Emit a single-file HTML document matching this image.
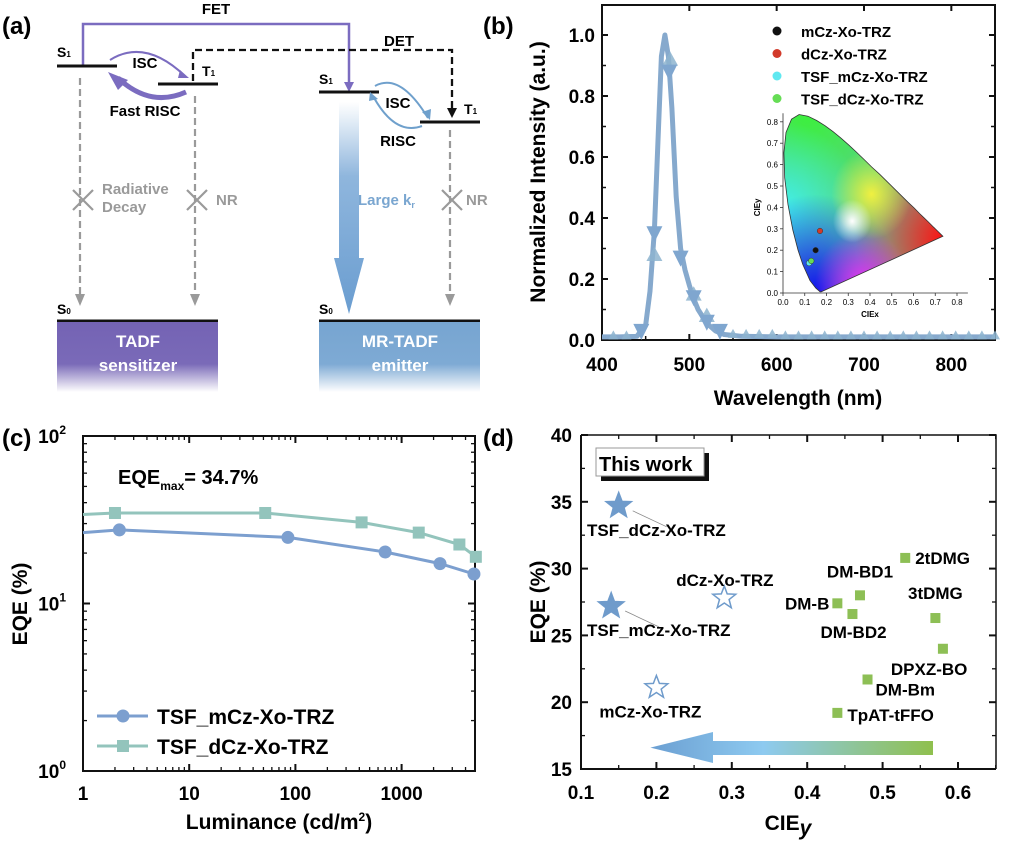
<!DOCTYPE html>
<html><head><meta charset="utf-8">
<style>
html,body{margin:0;padding:0;background:#fff;}
svg{display:block;font-family:"Liberation Sans",Arial,sans-serif;font-weight:bold;}
</style></head>
<body>
<svg id="fig" width="1016" height="844" viewBox="0 0 1016 844" xmlns="http://www.w3.org/2000/svg">
<defs>
  <linearGradient id="gPurple" x1="0" y1="0" x2="0" y2="1">
    <stop offset="0" stop-color="#7463b4"/><stop offset="0.6" stop-color="#7a6ab8"/><stop offset="1" stop-color="#ffffff"/>
  </linearGradient>
  <linearGradient id="gBlueBox" x1="0" y1="0" x2="0" y2="1">
    <stop offset="0" stop-color="#77a5d1"/><stop offset="0.6" stop-color="#7eaad4"/><stop offset="1" stop-color="#ffffff"/>
  </linearGradient>
  <linearGradient id="gBigArrow" x1="0" y1="0" x2="0" y2="1">
    <stop offset="0" stop-color="#ffffff"/><stop offset="0.35" stop-color="#8fb6dd"/><stop offset="1" stop-color="#6a9dd0"/>
  </linearGradient>
  <linearGradient id="gArrowD" x1="0" y1="0" x2="1" y2="0">
    <stop offset="0" stop-color="#6b9fd2"/><stop offset="0.4" stop-color="#8ecaf0"/><stop offset="1" stop-color="#8fc04e"/>
  </linearGradient>
  <clipPath id="cieClip"><path id="locusClip" d=""/></clipPath>
  <radialGradient id="rgGreen" cx="0.15" cy="0" r="0.8"><stop offset="0" stop-color="#3cf03c"/><stop offset="1" stop-color="#3cf03c" stop-opacity="0"/></radialGradient>
  <radialGradient id="rgCyan" cx="0" cy="0.55" r="0.5"><stop offset="0" stop-color="#40f0f0"/><stop offset="1" stop-color="#40f0f0" stop-opacity="0"/></radialGradient>
  <radialGradient id="rgBlue" cx="0.2" cy="1" r="0.55"><stop offset="0" stop-color="#1010f0"/><stop offset="1" stop-color="#1010f0" stop-opacity="0"/></radialGradient>
  <radialGradient id="rgRed" cx="1" cy="0.7" r="0.55"><stop offset="0" stop-color="#ff1010"/><stop offset="1" stop-color="#ff1010" stop-opacity="0"/></radialGradient>
  <radialGradient id="rgMag" cx="0.5" cy="0.95" r="0.3"><stop offset="0" stop-color="#f030f0"/><stop offset="1" stop-color="#f030f0" stop-opacity="0"/></radialGradient>
  <radialGradient id="rgYel" cx="0.55" cy="0.45" r="0.25"><stop offset="0" stop-color="#f0f040"/><stop offset="1" stop-color="#f0f040" stop-opacity="0"/></radialGradient>
  <radialGradient id="rgWhite" cx="0.43" cy="0.6" r="0.12"><stop offset="0" stop-color="#ffffff"/><stop offset="1" stop-color="#ffffff" stop-opacity="0"/></radialGradient>
</defs>

<!-- ================= PANEL A ================= -->
<g id="panel-a">
  <text x="2" y="34" font-size="24">(a)</text>
  <path d="M83,66 V24 H349 V88" fill="none" stroke="#7b6cc0" stroke-width="2.5"/>
  <path d="M344,82 L354,82 L349,92z" fill="#7b6cc0"/>
  <text x="216" y="14" font-size="15" text-anchor="middle">FET</text>
  <path d="M193,81 V50 H452 V112" fill="none" stroke="#111" stroke-width="2.3" stroke-dasharray="7,4"/>
  <path d="M447,108 L457,108 L452,118z" fill="#111"/>
  <text x="399" y="46" font-size="15" text-anchor="middle">DET</text>
  <line x1="57" y1="66" x2="117" y2="66" stroke="#111" stroke-width="3"/>
  <line x1="158" y1="84" x2="218" y2="84" stroke="#111" stroke-width="3"/>
  <line x1="319" y1="92" x2="379" y2="92" stroke="#111" stroke-width="3"/>
  <line x1="420" y1="122" x2="480" y2="122" stroke="#111" stroke-width="3"/>
  <text x="57" y="57" font-size="14">S<tspan font-size="8">1</tspan></text>
  <text x="202" y="76" font-size="14">T<tspan font-size="8">1</tspan></text>
  <text x="319" y="84" font-size="14">S<tspan font-size="8">1</tspan></text>
  <text x="464" y="114" font-size="14">T<tspan font-size="8">1</tspan></text>
  <text x="57" y="314" font-size="14">S<tspan font-size="8">0</tspan></text>
  <text x="319" y="314" font-size="14">S<tspan font-size="8">0</tspan></text>
  <path d="M110,60 Q145,38 185,76" fill="none" stroke="#7b6cc0" stroke-width="2"/>
  <path d="M180,70 L189,78 L178,78z" fill="#7b6cc0"/>
  <path d="M186,92 Q150,108 118,78" fill="none" stroke="#7b6cc0" stroke-width="5"/>
  <path d="M108,72 L128,80 L118,90z" fill="#7b6cc0"/>
  <text x="145" y="68" font-size="15" text-anchor="middle">ISC</text>
  <text x="145" y="116" font-size="15" text-anchor="middle">Fast RISC</text>
  <path d="M375,86 Q400,72 428,118" fill="none" stroke="#6fa0cc" stroke-width="2"/>
  <path d="M422,112 L430,120 L431,109z" fill="#6fa0cc"/>
  <path d="M422,126 Q395,136 373,96" fill="none" stroke="#6fa0cc" stroke-width="2"/>
  <path d="M370,92 L378,99 L369,101z" fill="#6fa0cc"/>
  <text x="398" y="108" font-size="15" text-anchor="middle">ISC</text>
  <text x="398" y="146" font-size="15" text-anchor="middle">RISC</text>
  <g stroke="#9a9a9a" stroke-width="2.2" stroke-dasharray="7,4" fill="none">
    <line x1="80" y1="78" x2="80" y2="296"/>
    <line x1="195" y1="96" x2="195" y2="296"/>
    <line x1="450" y1="130" x2="450" y2="296"/>
  </g>
  <g fill="#9a9a9a">
    <path d="M75,294 L85,294 L80,306z"/><path d="M190,294 L200,294 L195,306z"/><path d="M445,294 L455,294 L450,306z"/>
  </g>
  <g stroke="#9a9a9a" stroke-width="2.2">
    <path d="M73,190 L93,210 M93,190 L73,210"/>
    <path d="M187,190 L207,210 M207,190 L187,210"/>
    <path d="M442,190 L462,210 M462,190 L442,210"/>
  </g>
  <text x="102" y="194" font-size="15" fill="#9a9a9a">Radiative</text>
  <text x="102" y="212" font-size="15" fill="#9a9a9a">Decay</text>
  <text x="216" y="205" font-size="15" fill="#9a9a9a">NR</text>
  <text x="466" y="205" font-size="15" fill="#9a9a9a">NR</text>
  <path d="M339,102 H359 V258 H364 L349,314 L334,258 H339z" fill="url(#gBigArrow)"/>
  <text x="358" y="205" font-size="15" fill="#7aa6d0">Large k<tspan font-size="9" dy="3">r</tspan></text>
  <line x1="57" y1="321" x2="218" y2="321" stroke="#111" stroke-width="3"/>
  <rect x="57" y="322" width="161" height="70" fill="url(#gPurple)"/>
  <text x="138" y="347" font-size="17" fill="#fff" text-anchor="middle">TADF</text>
  <text x="138" y="371" font-size="17" fill="#fff" text-anchor="middle">sensitizer</text>
  <line x1="319" y1="321" x2="480" y2="321" stroke="#111" stroke-width="3"/>
  <rect x="319" y="322" width="161" height="70" fill="url(#gBlueBox)"/>
  <text x="400" y="347" font-size="17" fill="#fff" text-anchor="middle">MR-TADF</text>
  <text x="400" y="371" font-size="17" fill="#fff" text-anchor="middle">emitter</text>
</g>

<!-- ================= PANEL B ================= -->
<g id="panel-b">
  <text x="483" y="34" font-size="24">(b)</text>
  <g id="b-axes"></g>
  <g id="b-inset"></g>
  <g id="b-legend"></g>
  <text x="545" y="172" font-size="21" text-anchor="middle" transform="rotate(-90 545 172)">Normalized Intensity (a.u.)</text>
  <text x="798" y="405" font-size="21" text-anchor="middle">Wavelength (nm)</text>
</g>

<!-- ================= PANEL C ================= -->
<g id="panel-c">
  <text x="2" y="446" font-size="24">(c)</text>
  <g id="c-axes"></g>
  <text x="118" y="484" font-size="20">EQE<tspan font-size="12" dy="6">max</tspan><tspan dy="-6">= 34.7%</tspan></text>
  <text x="27" y="604" font-size="21" text-anchor="middle" transform="rotate(-90 27 604)">EQE (%)</text>
  <text x="279" y="829" font-size="21" text-anchor="middle">Luminance (cd/m<tspan font-size="12" dy="-8">2</tspan><tspan dy="8">)</tspan></text>
</g>

<!-- ================= PANEL D ================= -->
<g id="panel-d">
  <text x="483" y="446" font-size="24">(d)</text>
  <g id="d-axes"></g>
  <text x="545" y="602" font-size="21" text-anchor="middle" transform="rotate(-90 545 602)">EQE (%)</text>
  <text x="788" y="830" font-size="21" text-anchor="middle">CIE<tspan font-style="italic" font-size="21" dy="5">y</tspan></text>
</g>
</svg>

<script>
const NS = "http://www.w3.org/2000/svg";
function mk(tag, attrs, parent, txt){
  const e = document.createElementNS(NS, tag);
  for (const k in attrs) e.setAttribute(k, attrs[k]);
  if (txt !== undefined) e.textContent = txt;
  parent.appendChild(e);
  return e;
}

/* ---------- Panel B data ---------- */
const bWave = [400,420,440,450,455,460,465,468,472,476,480,485,490,495,500,505,510,520,530,540,560,600,700,850];
const bInt  = [0.01,0.01,0.012,0.05,0.16,0.36,0.72,0.93,1.0,0.93,0.76,0.47,0.30,0.23,0.18,0.135,0.10,0.055,0.03,0.018,0.012,0.01,0.01,0.01];
const bDownWave = [445,460,477,490,505,520,535];
const bDownInt  = [0.03,0.35,0.88,0.27,0.14,0.06,0.03];
const bUpWave = [460,478,505,520,550,565,580,595,610,625,640,655,670,685,700,715,730,745,760,775,790,805,820,835,850,413,428];
const bUpInt  = [0.28,0.92,0.15,0.08,0.02,0.02,0.02,0.02,0.015,0.015,0.015,0.015,0.015,0.015,0.015,0.015,0.015,0.015,0.015,0.015,0.015,0.015,0.015,0.015,0.015,0.015,0.015];
const bYTicks = [0,0.2,0.4,0.6,0.8,1.0];
const bXTicks = [400,500,600,700,800];
const cieNames = ["mCz-Xo-TRZ","dCz-Xo-TRZ","TSF_mCz-Xo-TRZ","TSF_dCz-Xo-TRZ"];
const cieX = [0.15,0.17,0.12,0.13];
const cieY = [0.20,0.29,0.14,0.15];
const cieColors = ["#111","#d23a2a","#5fe8f0","#66dd55"];
const locusX = [0.175,0.174,0.170,0.164,0.151,0.124,0.091,0.069,0.045,0.023,0.008,0.004,0.014,0.039,0.074,0.115,0.155,0.193,0.230,0.266,0.302,0.337,0.373,0.408,0.444,0.479,0.512,0.545,0.575,0.603,0.627,0.648,0.666,0.680,0.692,0.701,0.735];
const locusY = [0.005,0.005,0.006,0.011,0.023,0.058,0.133,0.201,0.295,0.413,0.538,0.655,0.750,0.812,0.834,0.826,0.806,0.782,0.754,0.724,0.692,0.659,0.624,0.589,0.555,0.520,0.487,0.454,0.424,0.397,0.372,0.352,0.334,0.320,0.308,0.299,0.265];
const insetTicks = [0,0.1,0.2,0.3,0.4,0.5,0.6,0.7,0.8];

const bx = w => 602 + (w-400)*(393/450);
const by = v => 340 - v*305;
(function(){
  const g = document.getElementById('b-axes');
  const fr = mk('rect',{x:602,y:5,width:393,height:335,fill:'none',stroke:'#111','stroke-width':2},g);
  
  
  bYTicks.forEach(t=>{
    mk('line',{x1:602,x2:608,y1:by(t),y2:by(t),stroke:'#111','stroke-width':2},g);
    mk('line',{x1:995,x2:989,y1:by(t),y2:by(t),stroke:'#111','stroke-width':2},g);
    const tl = mk('text',{x:595,y:by(t)+7,'font-size':19,'text-anchor':'end'},g,t.toFixed(1));
    
    
  });
  for(let t=0.1;t<1.05;t+=0.2){ mk('line',{x1:602,x2:606,y1:by(t),y2:by(t),stroke:'#111','stroke-width':1.5},g); mk('line',{x1:995,x2:991,y1:by(t),y2:by(t),stroke:'#111','stroke-width':1.5},g);}
  bXTicks.forEach(t=>{
    mk('line',{x1:bx(t),x2:bx(t),y1:340,y2:334,stroke:'#111','stroke-width':2},g);
    mk('line',{x1:bx(t),x2:bx(t),y1:5,y2:11,stroke:'#111','stroke-width':2},g);
    const tl = mk('text',{x:bx(t),y:371,'font-size':19,'text-anchor':'middle'},g,String(t));
    
    
  });
  for(let t=450;t<=850;t+=100){ mk('line',{x1:bx(t),x2:bx(t),y1:340,y2:336,stroke:'#111','stroke-width':1.5},g); }
  let d=''; bWave.forEach((w,i)=>{ d+=(i?'L':'M')+bx(w).toFixed(1)+','+by(bInt[i]).toFixed(1); });
  const ln = mk('path',{d:d,fill:'none',stroke:'#86a9cd','stroke-width':5,'stroke-linejoin':'round'},g);
  
  
  bUpWave.forEach((w,i)=>{
    const x=bx(w), y=by(bUpInt[i]); const s = w>540||w<440?5:8;
    const p = mk('path',{d:`M${x-s},${y+s*0.8} L${x+s},${y+s*0.8} L${x},${y-s}z`,fill:'#8db4cf',opacity:0.85},g);
    
    
  });
  bDownWave.forEach((w,i)=>{
    const x=bx(w), y=by(bDownInt[i]);
    const p = mk('path',{d:`M${x-8},${y-7} L${x+8},${y-7} L${x},${y+9}z`,fill:'#7fa6cf'},g);
    
    
  });
  const lg = document.getElementById('b-legend');
  cieNames.forEach((n,i)=>{
    const y = 32 + i*22.5;
    const c = mk('circle',{cx:777,cy:y-1,r:4.5,fill:cieColors[i]},lg);
    
    
    const t = mk('text',{x:801,y:y+5,'font-size':15},lg,n);
    
    
  });
  const ig = document.getElementById('b-inset');
  const ix = v => 783 + v*217.5, iy = v => 293 - v*214;
  let ld=''; locusX.forEach((v,i)=>{ ld+=(i?'L':'M')+ix(v).toFixed(1)+','+iy(locusY[i]).toFixed(1); }); ld+='Z';
  document.getElementById('locusClip').setAttribute('d', ld);
  const cg = mk('g',{'clip-path':'url(#cieClip)'},ig);
  const bxmin=ix(0), bymin=iy(0.84), bw=ix(0.74)-ix(0), bh=iy(0)-iy(0.84);
  mk('rect',{x:bxmin,y:bymin,width:bw,height:bh,fill:'#60c8a0'},cg);
  ['rgGreen','rgCyan','rgBlue','rgRed','rgMag','rgYel','rgWhite'].forEach(id=>mk('rect',{x:bxmin,y:bymin,width:bw,height:bh,fill:`url(#${id})`},cg));
  const lc = mk('path',{d:ld,fill:'none',stroke:'#333','stroke-width':0.8},ig);
  
  
  mk('path',{d:`M${ix(0)},${iy(0.84)} V${iy(0)} H${ix(0.85)}`,fill:'none',stroke:'#333','stroke-width':0.8},ig);
  insetTicks.forEach(t=>{
    mk('line',{x1:ix(0),x2:ix(0)-3,y1:iy(t),y2:iy(t),stroke:'#333','stroke-width':0.8},ig);
    mk('text',{x:ix(0)-5,y:iy(t)+3,'font-size':8,'font-weight':'normal','text-anchor':'end'},ig,t.toFixed(1));
    mk('line',{x1:ix(t),x2:ix(t),y1:iy(0),y2:iy(0)+3,stroke:'#333','stroke-width':0.8},ig);
    mk('text',{x:ix(t),y:iy(0)+12,'font-size':8,'font-weight':'normal','text-anchor':'middle'},ig,t.toFixed(1));
  });
  mk('text',{x:ix(0.4),y:iy(0)+24,'font-size':8,'text-anchor':'middle'},ig,'CIEx');
  mk('text',{x:760,y:iy(0.4),'font-size':8,'text-anchor':'middle',transform:`rotate(-90 760 ${iy(0.4)})`},ig,'CIEy');
  cieX.forEach((v,i)=>{
    const c = mk('circle',{cx:ix(v),cy:iy(cieY[i]),r:2.8,fill:cieColors[i],stroke:'#333','stroke-width':0.5},ig);
    
    
  });
})();

/* ---------- Panel C data ---------- */
const cLumM = [1,2.2,85,700,2300,4800];
const cEqeM = [26.5,27.5,24.8,20.3,17.3,15.0];
const cLumD = [1,2.0,52,420,1450,3500,5000];
const cEqeD = [34.0,34.7,34.7,30.5,26.5,22.5,19.0];
const cXTicks = [1,10,100,1000];
const cYTicks = [0,1,2];
const cx_ = L => 83 + Math.log10(L)*106.2;
const cy_ = v => 771 - Math.log10(v)*167.5;
(function(){
  const g = document.getElementById('c-axes');
  const fr = mk('rect',{x:83,y:436,width:392,height:335,fill:'none',stroke:'#111','stroke-width':2},g);
  
  
  cYTicks.forEach(p=>{
    const y = cy_(Math.pow(10,p));
    mk('line',{x1:83,x2:90,y1:y,y2:y,stroke:'#111','stroke-width':2},g);
    mk('line',{x1:475,x2:468,y1:y,y2:y,stroke:'#111','stroke-width':2},g);
    const t = mk('text',{x:66,y:y+7,'font-size':19,'text-anchor':'end'},g,'10');
    mk('tspan',{'font-size':12,dy:-9},t,String(p));
    
    
    if(p<2) for(let k=2;k<10;k++){ const yy=cy_(k*Math.pow(10,p)); mk('line',{x1:83,x2:87,y1:yy,y2:yy,stroke:'#111','stroke-width':1.3},g); mk('line',{x1:475,x2:471,y1:yy,y2:yy,stroke:'#111','stroke-width':1.3},g);}
  });
  cXTicks.forEach(L=>{
    const x = cx_(L);
    mk('line',{x1:x,x2:x,y1:771,y2:764,stroke:'#111','stroke-width':2},g);
    mk('line',{x1:x,x2:x,y1:436,y2:443,stroke:'#111','stroke-width':2},g);
    const t = mk('text',{x:x,y:800,'font-size':19,'text-anchor':'middle'},g,String(L));
    
    
    for(let k=2;k<10;k++){ const xx=cx_(k*L); if(xx<475){ mk('line',{x1:xx,x2:xx,y1:771,y2:767,stroke:'#111','stroke-width':1.3},g); mk('line',{x1:xx,x2:xx,y1:436,y2:440,stroke:'#111','stroke-width':1.3},g);} }
  });
  function series(L,E,col,shape,name){
    let d=''; L.forEach((l,i)=>{ d+=(i?'L':'M')+cx_(l).toFixed(1)+','+cy_(E[i]).toFixed(1); });
    const p = mk('path',{d:d,fill:'none',stroke:col,'stroke-width':3},g);
    
    
    L.forEach((l,i)=>{ if(i===0) return; const x=cx_(l), y=cy_(E[i]);
      let m;
      if(shape==='c') m = mk('circle',{cx:x,cy:y,r:6.5,fill:col},g);
      else m = mk('rect',{x:x-6,y:y-6,width:12,height:12,fill:col},g);
      
      
    });
  }
  series(cLumD,cEqeD,'#93c4bc','s','dcz-series');
  series(cLumM,cEqeM,'#7c9fcf','c','mcz-series');
  mk('line',{x1:97,x2:148,y1:716,y2:716,stroke:'#7c9fcf','stroke-width':3},g);
  mk('circle',{cx:123,cy:716,r:6.5,fill:'#7c9fcf'},g);
  const l1 = mk('text',{x:157,y:724,'font-size':21},g,'TSF_mCz-Xo-TRZ');
  
  
  mk('line',{x1:97,x2:148,y1:746,y2:746,stroke:'#93c4bc','stroke-width':3},g);
  mk('rect',{x:117,y:740,width:12,height:12,fill:'#93c4bc'},g);
  const l2 = mk('text',{x:157,y:754,'font-size':21},g,'TSF_dCz-Xo-TRZ');
  
  
})();

/* ---------- Panel D data ---------- */
const dStarNames = ["TSF_dCz-Xo-TRZ","TSF_mCz-Xo-TRZ","dCz-Xo-TRZ","mCz-Xo-TRZ"];
const dStarX = [0.15,0.14,0.29,0.20];
const dStarY = [34.7,27.2,27.8,21.1];
const dStarFilled = [true,true,false,false];
const dSqNames = ["2tDMG","DM-BD1","DM-B","DM-BD2","3tDMG","DPXZ-BO","DM-Bm","TpAT-tFFO"];
const dSqX = [0.53,0.47,0.44,0.46,0.57,0.58,0.48,0.44];
const dSqY = [30.8,28.0,27.4,26.6,26.3,24.0,21.7,19.2];
const dXTicks = [0.1,0.2,0.3,0.4,0.5,0.6];
const dYTicks = [15,20,25,30,35,40];
const dx_ = v => 581 + (v-0.1)*754;
const dy_ = v => 769 - (v-15)*13.36;
(function(){
  const g = document.getElementById('d-axes');
  const fr = mk('path',{d:'M581,435 V769 H996',fill:'none',stroke:'#111','stroke-width':2},g);
  
  
  mk('path',{d:'M581,435 H996 V769',fill:'none',stroke:'#111','stroke-width':1.5},g);
  dYTicks.forEach(t=>{
    const y=dy_(t);
    mk('line',{x1:581,x2:588,y1:y,y2:y,stroke:'#111','stroke-width':2},g);
    mk('line',{x1:996,x2:989,y1:y,y2:y,stroke:'#111','stroke-width':2},g);
    const tl = mk('text',{x:572,y:y+7,'font-size':19,'text-anchor':'end'},g,String(t));
    
    
    if(t<40){ const ym=dy_(t+2.5); mk('line',{x1:581,x2:585,y1:ym,y2:ym,stroke:'#111','stroke-width':1.3},g); mk('line',{x1:996,x2:992,y1:ym,y2:ym,stroke:'#111','stroke-width':1.3},g);}
  });
  dXTicks.forEach(t=>{
    const x=dx_(t);
    mk('line',{x1:x,x2:x,y1:769,y2:762,stroke:'#111','stroke-width':2},g);
    mk('line',{x1:x,x2:x,y1:435,y2:442,stroke:'#111','stroke-width':2},g);
    const tl = mk('text',{x:x,y:799,'font-size':19,'text-anchor':'middle'},g,t.toFixed(1));
    
    
    const xm=dx_(t+0.05); if(xm<996){ mk('line',{x1:xm,x2:xm,y1:769,y2:765,stroke:'#111','stroke-width':1.3},g); mk('line',{x1:xm,x2:xm,y1:435,y2:439,stroke:'#111','stroke-width':1.3},g);}
  });
  mk('rect',{x:601,y:453,width:108,height:28,fill:'#111'},g);
  const bx2 = mk('rect',{x:596,y:448,width:108,height:28,fill:'#fff',stroke:'#999','stroke-width':1},g);
  
  
  mk('text',{x:599,y:471,'font-size':20},g,'This work');
  const ar = mk('path',{d:`M${dx_(0.2)-6},${dy_(16.6)} L713,732 L713,741 L933,741 L933,755 L713,755 L713,763 Z`,fill:'url(#gArrowD)'},g);
  
  
  function starPath(cx,cy,R){ let d=''; for(let k=0;k<10;k++){ const r=k%2?R*0.42:R; const a=-Math.PI/2+k*Math.PI/5; d+=(k?'L':'M')+(cx+r*Math.cos(a)).toFixed(1)+','+(cy+r*Math.sin(a)).toFixed(1);} return d+'Z'; }
  const starLabelOff = [[-35,24],[-35,24],[-48,-18],[-57,24]];
  dStarX.forEach((v,i)=>{
    const x=dx_(v), y=dy_(dStarY[i]);
    const s = mk('path',{d:starPath(x,y,dStarFilled[i]?14:12),fill:dStarFilled[i]?'#6f9bcb':'#fff',stroke:'#6f9bcb','stroke-width':dStarFilled[i]?1:1.5},g);
    
    
    if(dStarFilled[i]) mk('line',{x1:x+14,y1:y+5,x2:x+48,y2:y+21,stroke:'#888','stroke-width':0.8},g);
    const t = mk('text',{x:x+starLabelOff[i][0],y:y+starLabelOff[i][1]+6,'font-size':17},g,dStarNames[i]);
    if(i<2) t.setAttribute('x', 587);
    
    
  });
  const sqLab = [[10,6,'start'],[0,-18,'middle'],[-8,6,'end'],[8,24,'start'],[0,-19,'middle'],[-12,26,'start'],[8,16,'start'],[10,8,'start']];
  dSqX.forEach((v,i)=>{
    const x=dx_(v), y=dy_(dSqY[i]);
    const s = mk('rect',{x:x-5,y:y-5,width:10,height:10,fill:'#8dbf55'},g);
    
    
    let tx=x+sqLab[i][0], ty=y+sqLab[i][1], anc=sqLab[i][2];
    if(i===3){tx=x-32;} if(i===5){tx=x-52;}
    const t = mk('text',{x:tx,y:ty,'font-size':17,'text-anchor':anc},g,dSqNames[i]);
    
    
  });
})();
</script>
</body></html>
